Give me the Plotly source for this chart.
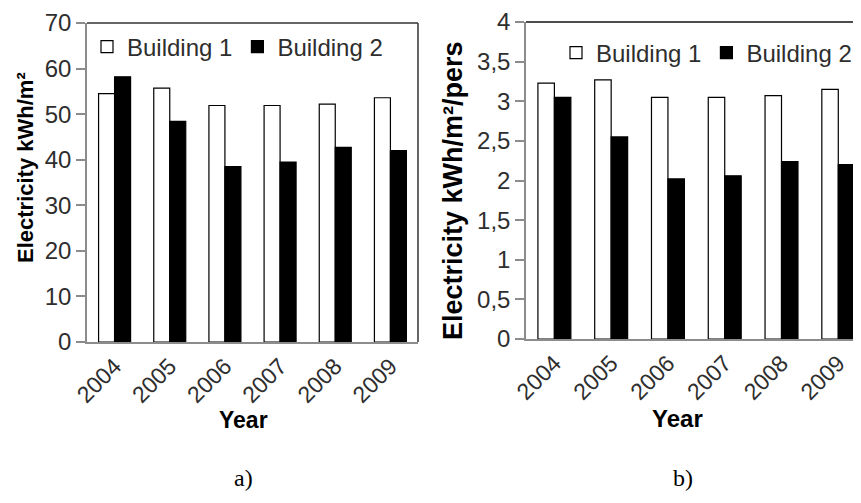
import plotly.graph_objects as go

YEARS = ["2004", "2005", "2006", "2007", "2008", "2009"]
B1_AREA = [54.5, 55.7, 51.9, 51.9, 52.2, 53.6]
B2_AREA = [58.2, 48.4, 38.5, 39.5, 42.7, 42.0]
B1_PERS = [3.23, 3.27, 3.05, 3.05, 3.07, 3.15]
B2_PERS = [3.05, 2.55, 2.02, 2.06, 2.24, 2.20]
Y1_TICKS = [0, 10, 20, 30, 40, 50, 60, 70]
Y2_TICKS = [0, 0.5, 1, 1.5, 2, 2.5, 3, 3.5, 4]
Y2_LABELS = ["0", "0,5", "1", "1,5", "2", "2,5", "3", "3,5", "4"]

INK = "#000000"
TICK_INK = "#2e2e2e"
AXIS_GRAY = "#8c8c8c"
FONT = "Liberation Sans, Arial, sans-serif"
SERIF = "Liberation Serif, Times New Roman, serif"

fig = go.Figure()

def bar_pair(b1, b2, xa, ya, legend):
    fig.add_trace(go.Bar(x=YEARS, y=b1, name="Building 1", xaxis=xa, yaxis=ya, legend=legend,
                         marker=dict(color="white", line=dict(color=INK, width=1.2))))
    fig.add_trace(go.Bar(x=YEARS, y=b2, name="Building 2", xaxis=xa, yaxis=ya, legend=legend,
                         marker=dict(color=INK, line=dict(color=INK, width=1.2))))

bar_pair(B1_AREA, B2_AREA, "x", "y", "legend")
bar_pair(B1_PERS, B2_PERS, "x2", "y2", "legend2")

# page is offset by the 8px body margin, so coordinates below are page pixels minus 8
W, H = 853, 495
def px(x):
    return (x - 8) / W
def py(y):
    return 1 - (y - 8) / H

def xaxis(domain, anchor, rng, size):
    return dict(domain=domain, anchor=anchor, type="category", range=rng, automargin=False,
                showline=True, linecolor=AXIS_GRAY, linewidth=1.5, ticks="",
                tickangle=-45, tickfont=dict(size=size, color=TICK_INK, family=FONT),
                showgrid=False, zeroline=False)

def yaxis(domain, anchor, rng, tickvals, ticktext, size):
    return dict(domain=domain, anchor=anchor, range=rng, tickvals=tickvals, ticktext=ticktext,
                automargin=False, ticklabeloverflow="allow",
                showline=True, linecolor=AXIS_GRAY, linewidth=1.5, ticks="outside",
                ticklen=9, tickcolor=AXIS_GRAY, tickwidth=1.5,
                tickfont=dict(size=size, color=TICK_INK, family=FONT),
                showgrid=False, zeroline=False)

def note(text, x, y, size, family=FONT, angle=0):
    return dict(text=text, x=px(x), y=py(y), xref="paper", yref="paper", showarrow=False,
                xanchor="center", yanchor="middle",
                textangle=angle, font=dict(size=size, color=INK, family=family))

fig.update_layout(
    width=W, height=H,
    paper_bgcolor="white", plot_bgcolor="white",
    margin=dict(l=0, r=0, t=0, b=0),
    barmode="group", bargap=0.42, bargroupgap=0,
    font=dict(family=FONT, color=INK),
    xaxis=xaxis([px(87), px(418)], "y", [-0.5, 5.5], 23),
    yaxis=yaxis([py(342), py(23)], "x", [0, 70.001], Y1_TICKS, [str(v) for v in Y1_TICKS], 24),
    xaxis2=xaxis([px(526), 1.0], "y2", [-0.5, 5.4], 23),
    yaxis2=yaxis([py(339), py(22)], "x2", [0, 4.0001], Y2_TICKS, Y2_LABELS, 24),
    legend=dict(orientation="h", x=px(87), y=py(47), xanchor="left", yanchor="middle",
                font=dict(size=24, color=TICK_INK, family=FONT), bgcolor="rgba(0,0,0,0)",
                itemwidth=30, tracegroupgap=0),
    legend2=dict(orientation="h", x=px(556), y=py(53), xanchor="left", yanchor="middle",
                 font=dict(size=24, color=TICK_INK, family=FONT), bgcolor="rgba(0,0,0,0)",
                 itemwidth=30, tracegroupgap=0),
    shapes=[
        dict(type="line", xref="paper", yref="paper", x0=px(87), x1=px(418), y0=py(23), y1=py(23),
             line=dict(color="#333333", width=1.5)),
        dict(type="line", xref="paper", yref="paper", x0=px(418), x1=px(418), y0=py(23), y1=py(342),
             line=dict(color="#333333", width=1.5)),
        dict(type="line", xref="paper", yref="paper", x0=px(526), x1=1.0, y0=py(22), y1=py(22),
             line=dict(color="#111111", width=1.5)),
    ],
    annotations=[
        note("<b>Electricity kWh/m²</b>", 25, 168, 22, angle=-90),
        note("<b>Electricity kWh/m²/pers</b>", 453, 191, 27, angle=-90),
        note("<b>Year</b>", 243, 420, 23),
        note("<b>Year</b>", 677, 418, 24),
        note("a)", 243, 478, 24, SERIF),
        note("b)", 683, 478, 24, SERIF),
    ],
)

fig.write_html("out.html")
